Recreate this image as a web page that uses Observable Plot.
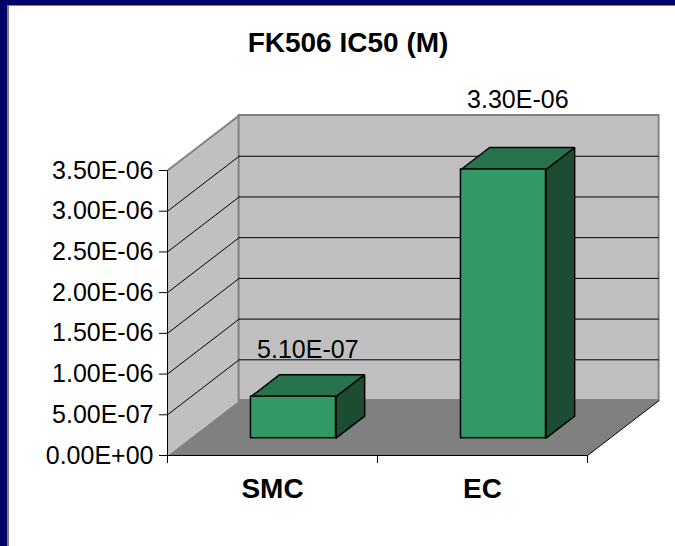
<!DOCTYPE html>
<html>
<head>
<meta charset="utf-8">
<script src="https://cdn.jsdelivr.net/npm/d3@7"></script>
<script src="https://cdn.jsdelivr.net/npm/@observablehq/plot@0.6"></script>
<style>
  html, body { margin: 0; padding: 0; background: #ffffff; }
  #wrap { position: relative; width: 675px; height: 546px; overflow: hidden; font-family: "Liberation Sans", Arial, sans-serif; }
  #chart svg { display: block; }
  #title { position: absolute; left: 148px; width: 400px; top: 28.6px; text-align: center;
           font: bold 28px/28px "Liberation Sans", Arial, sans-serif; color: #000; }
  .navy { position: absolute; background: #000066; }
  .edge { position: absolute; background: #808080; }
</style>
</head>
<body>
<div id="wrap">
  <div id="chart"></div>
  <div id="title"></div>
  <div class="navy" style="left:0;top:0;width:675px;height:5px;"></div>
  <div class="edge" style="left:7px;top:5px;width:668px;height:1px;"></div>
  <div class="navy" style="left:0;top:0;width:7px;height:546px;"></div>
  <div class="edge" style="left:7px;top:5px;width:2px;height:541px;"></div>
</div>
<script>
// ---- data ----
const title = "FK506 IC50 (M)";
const categories = ["SMC", "EC"];
const values = [5.1e-7, 3.3e-6];
const yTicks = [0, 5e-7, 1e-6, 1.5e-6, 2e-6, 2.5e-6, 3e-6, 3.5e-6];

// ---- format like Excel "0.00E+00" ----
function fmtE(v) {
  const [m, e] = v.toExponential(2).split("e");
  const n = +e;
  return m + "E" + (n < 0 ? "-" : "+") + String(Math.abs(n)).padStart(2, "0");
}

// ---- oblique 3D projection expressed in data units ----
const DX = 0.341;      // depth shift along x (category units)
const DY = 0.675e-6;   // depth shift along y (value units)
const ZF = 0.315, ZB = 0.715;   // bar front / back depth
const BAR0 = 0.29, BAR1 = 0.695; // bar position inside its category band
const yMax = yTicks[yTicks.length - 1];
const nCat = categories.length;
const P = (x, y, z) => ({x: x + z * DX, y: y + z * DY});

const floor = [P(0, 0, 0), P(nCat, 0, 0), P(nCat, 0, 1), P(0, 0, 1)];
const leftWall = [P(0, 0, 0), P(0, yMax, 0), P(0, yMax, 1), P(0, 0, 1)];
const grid = yTicks.filter(v => v > 0 && v < yMax);

const topFaces = categories.flatMap((c, i) => {
  const v = values[i], a = i + BAR0, b = i + BAR1;
  return [P(a, v, ZF), P(b, v, ZF), P(b, v, ZB), P(a, v, ZB), P(a, v, ZF)].map(p => ({...p, id: c}));
});
const sideFaces = categories.flatMap((c, i) => {
  const v = values[i], b = i + BAR1;
  return [P(b, 0, ZF), P(b, v, ZF), P(b, v, ZB), P(b, 0, ZB), P(b, 0, ZF)].map(p => ({...p, id: c}));
});

const LA = 1.099, LB = 0.643e-6; // label placement rule

const chart = Plot.plot({
  width: 675,
  height: 546,
  marginLeft: 167,
  marginRight: 88,
  marginTop: 170,
  marginBottom: 91,
  x: {domain: [0, nCat]},
  y: {domain: [0, yMax]},
  style: {background: "transparent", color: "#000", fontFamily: "'Liberation Sans', Arial, sans-serif", overflow: "visible"},
  marks: [
    // floor and left wall
    Plot.line(floor, {x: "x", y: "y", fill: "#808080", stroke: "none"}),
    Plot.line(leftWall, {x: "x", y: "y", fill: "#c0c0c0", stroke: "none"}),
    // back wall
    Plot.rect([0], {x1: () => DX, x2: () => nCat + DX, y1: () => DY, y2: () => yMax + DY,
                    fill: "#c0c0c0", stroke: "#808080", strokeWidth: 2}),
    // left wall top edge
    Plot.link([yMax], {x1: () => 0, y1: v => v, x2: () => DX, y2: v => v + DY, stroke: "#808080", strokeWidth: 2}),
    // gridlines
    Plot.ruleY(grid, {y: v => v + DY, x1: () => DX, x2: () => nCat + DX, stroke: "#000", strokeWidth: 1}),
    Plot.link(grid, {x1: () => 0, y1: v => v, x2: () => DX, y2: v => v + DY, stroke: "#000", strokeWidth: 1}),
    // floor right edge and front edges
    Plot.link([0], {x1: () => nCat, y1: v => v, x2: () => nCat + DX, y2: v => v + DY, stroke: "#000", strokeWidth: 1}),
    Plot.ruleY([0], {x1: () => 0, x2: () => nCat, stroke: "#000", strokeWidth: 1}),
    Plot.ruleX([0], {y1: () => 0, y2: () => yMax, stroke: "#000", strokeWidth: 1}),
    // bars
    Plot.line(sideFaces, {x: "x", y: "y", z: "id", fill: "#1c4d33", stroke: "#000", strokeWidth: 1.5, strokeLinejoin: "miter"}),
    Plot.line(topFaces, {x: "x", y: "y", z: "id", fill: "#26734d", stroke: "#000", strokeWidth: 1.5, strokeLinejoin: "miter"}),
    Plot.rect(values, {
      x1: (v, i) => i + BAR0 + ZF * DX,
      x2: (v, i) => i + BAR1 + ZF * DX,
      y1: () => ZF * DY,
      y2: v => v + ZF * DY,
      fill: "#339966", stroke: "#000", strokeWidth: 1.5
    }),
    // value labels
    Plot.text(values, {
      x: (v, i) => i + (BAR0 + BAR1) / 2 + (ZF + ZB) / 2 * DX,
      y: v => LA * v + LB,
      text: v => fmtE(v),
      lineAnchor: "bottom",
      fontSize: 25,
      fill: "#000"
    }),
    // axes
    Plot.axisY({ticks: yTicks, tickFormat: fmtE, tickSize: 8, tickPadding: 6, fontSize: 25, label: null}),
    Plot.axisX({ticks: d3.range(nCat + 1), tickFormat: () => "", tickSize: 8, label: null}),
    Plot.axisX({ticks: categories.map((c, i) => i + 0.5), tickFormat: x => categories[Math.floor(x)],
                tickSize: 0, tickPadding: 23, fontSize: 28, fontWeight: "bold", label: null})
  ]
});
document.getElementById("chart").appendChild(chart);
document.getElementById("title").textContent = title;
</script>
</body>
</html>
